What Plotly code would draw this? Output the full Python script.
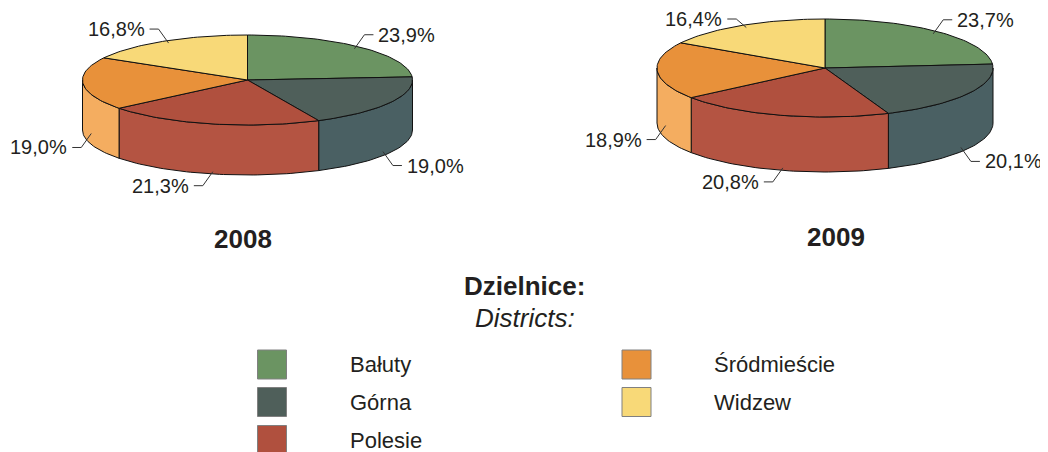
import math
import plotly.graph_objects as go

# ---- data ----
districts = ["Bałuty", "Górna", "Polesie", "Śródmieście", "Widzew"]
years = ["2008", "2009"]
shares_2008 = [23.9, 19.0, 21.3, 19.0, 16.8]
shares_2009 = [23.7, 20.1, 20.8, 18.9, 16.4]
legend_title = "Dzielnice:"
legend_subtitle = "Districts:"

# ---- style ----
top_colors = ["#6B9462", "#4F5F5A", "#B0503E", "#E8913A", "#F8D978"]
side_colors = ["#6B9462", "#4A6063", "#B45442", "#F4AD60", "#F8D978"]
TEXT = "#231F20"
FONT = "Liberation Sans, Arial, sans-serif"
W, H = 1048, 452
PAGE_MARGIN = 8  # default body margin of the html page
LABEL_TOP_LIMIT = 19

panels = [
    dict(values=shares_2008, title=years[0], cx=247.5, cy=80, rx=165, ry=45, depth=50, tx=243, ty=239),
    dict(values=shares_2009, title=years[1], cx=825, cy=68, rx=168, ry=49, depth=55, tx=836, ty=237),
]

fig = go.Figure()


def rim(p, theta_deg, down=0.0, k=1.0):
    t = math.radians(theta_deg)
    return p["cx"] + k * p["rx"] * math.sin(t), p["cy"] - k * p["ry"] * math.cos(t) + down


def arc(p, a, b, down=0.0):
    n = max(2, int(abs(b - a) / 1.5) + 2)
    pts = [rim(p, a + (b - a) * i / (n - 1), down) for i in range(n)]
    return [q[0] for q in pts], [q[1] for q in pts]


def poly(xs, ys, color):
    fig.add_trace(go.Scatter(
        x=xs, y=ys, mode="lines", fill="toself", fillcolor=color,
        line=dict(color="#111111", width=1), hoverinfo="skip", showlegend=False))


annotations = []
for p in panels:
    vals = p["values"]
    total = sum(vals)
    bounds = [0.0]
    for v in vals:
        bounds.append(bounds[-1] + 360.0 * v / total)
    # side faces (front half: 90..270 deg)
    for i in range(len(vals)):
        a, b = max(bounds[i], 90.0), min(bounds[i + 1], 270.0)
        if b <= a:
            continue
        x1, y1 = arc(p, a, b)
        x2, y2 = arc(p, b, a, down=p["depth"])
        poly(x1 + x2 + [x1[0]], y1 + y2 + [y1[0]], side_colors[i])
    # top faces
    for i in range(len(vals)):
        xs, ys = arc(p, bounds[i], bounds[i + 1])
        poly([p["cx"]] + xs + [p["cx"]], [p["cy"]] + ys + [p["cy"]], top_colors[i])
    # labels with leader lines
    for i, v in enumerate(vals):
        m = (bounds[i] + bounds[i + 1]) / 2
        s, c = math.sin(math.radians(m)), math.cos(math.radians(m))
        ax, ay = rim(p, m, down=p["depth"] if c < 0 else 0.0, k=0.95)
        sg = 1 if s >= 0 else -1
        ey = max(ay - 14, LABEL_TOP_LIMIT) if c > 0 else ay + 14
        ex = ax + 10 * sg
        hx = ex + 9 * sg
        fig.add_trace(go.Scatter(x=[ax, ex, hx], y=[ay, ey, ey], mode="lines",
                                 line=dict(color="#333333", width=1),
                                 hoverinfo="skip", showlegend=False))
        annotations.append(dict(
            x=hx + 3 * sg, y=ey, xref="x", yref="y", showarrow=False,
            text=f"{v:.1f}".replace(".", ",") + "%",
            xanchor="left" if sg > 0 else "right", yanchor="middle",
            font=dict(family=FONT, size=20, color=TEXT)))
    annotations.append(dict(
        x=p["tx"], y=p["ty"], xref="x", yref="y", showarrow=False,
        text=f"<b>{p['title']}</b>", xanchor="center", yanchor="middle",
        font=dict(family=FONT, size=26, color=TEXT)))

# legend header
annotations.append(dict(x=524, y=286, xref="x", yref="y", showarrow=False,
                        text=f"<b>{legend_title}</b>", xanchor="center", yanchor="middle",
                        font=dict(family=FONT, size=26, color=TEXT)))
annotations.append(dict(x=525, y=318, xref="x", yref="y", showarrow=False,
                        text=f"<i>{legend_subtitle}</i>", xanchor="center", yanchor="middle",
                        font=dict(family=FONT, size=26, color=TEXT)))

# legend entries (column-wise, 3 rows)
col_sq_x = [272, 636.5]
col_tx_x = [348, 712]
row_y = [364.5, 402, 440]
for i, name in enumerate(districts):
    col, row = i // 3, i % 3
    fig.add_trace(go.Scatter(
        x=[col_sq_x[col]], y=[row_y[row]], mode="markers",
        marker=dict(symbol="square", size=29, color=top_colors[i],
                    line=dict(color="#808080", width=1)),
        hoverinfo="skip", showlegend=False))
    annotations.append(dict(x=col_tx_x[col], y=row_y[row], xref="x", yref="y", showarrow=False,
                            text=name, xanchor="left", yanchor="middle",
                            font=dict(family=FONT, size=22, color=TEXT)))

fig.update_layout(
    width=W - PAGE_MARGIN, height=H - PAGE_MARGIN, autosize=False,
    margin=dict(l=0, r=0, t=0, b=0),
    paper_bgcolor="white", plot_bgcolor="white",
    xaxis=dict(range=[PAGE_MARGIN, W], visible=False, fixedrange=True),
    yaxis=dict(range=[H, PAGE_MARGIN], visible=False, fixedrange=True),
    annotations=annotations,
    showlegend=False,
)
fig.write_html("out.html")
